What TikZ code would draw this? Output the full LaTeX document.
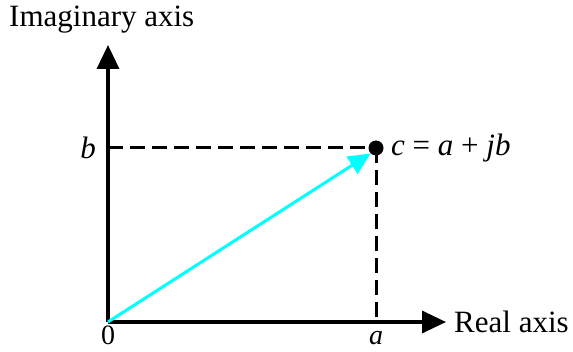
\documentclass[tikz,border=0pt]{standalone}
\usepackage{fontspec}
\setmainfont{Liberation Serif}
\usetikzlibrary{arrows.meta}
\definecolor{vcyan}{RGB}{0,255,255}
\begin{document}
\begin{tikzpicture}[x=1pt,y=-1pt,
  axis/.style={line width=3.5pt,-{Triangle[length=24pt,width=22pt]}},
  guide/.style={line width=3pt,dash pattern=on 15pt off 7pt},
  vec/.style={vcyan,line width=3pt,-{Triangle[length=22pt,width=20pt]}},
  lab/.style={font=\fontsize{31}{33}\selectfont,inner sep=0pt},
  small/.style={font=\fontsize{28}{30}\selectfont,inner sep=0pt}]
\useasboundingbox (0,0) rectangle (573,352);
\coordinate (O) at (108,322);
\coordinate (Ytip) at (108,45);
\coordinate (Xtip) at (446,322);
\coordinate (A) at (376,322);
\coordinate (B) at (108,148);
\node[circle,fill=black,minimum size=15pt,inner sep=0pt] (C) at (376,148) {};
\draw[axis] (O) -- (Ytip);
\draw[axis] (O) -- (Xtip);
\draw[guide] (B) -- (C.center);
\draw[guide] (C.center) -- (A);
\draw[vec] (O) -- (C.south west);
\node[lab,anchor=west] (ylab) at (9,20) {Imaginary axis};
\node[lab,anchor=west] (xlab) at (454,322) {Real axis};
\node[lab] (blab) at (88,148) {\textit{b}};
\node[small,anchor=base] (zlab) at (108,345) {0};
\node[small,anchor=base] (alab) at (376,345) {\textit{a}};
\node[lab,anchor=west] (clab) at (391,148) {\textit{c} = \textit{a} + \textit{jb}};
\end{tikzpicture}
\end{document}
